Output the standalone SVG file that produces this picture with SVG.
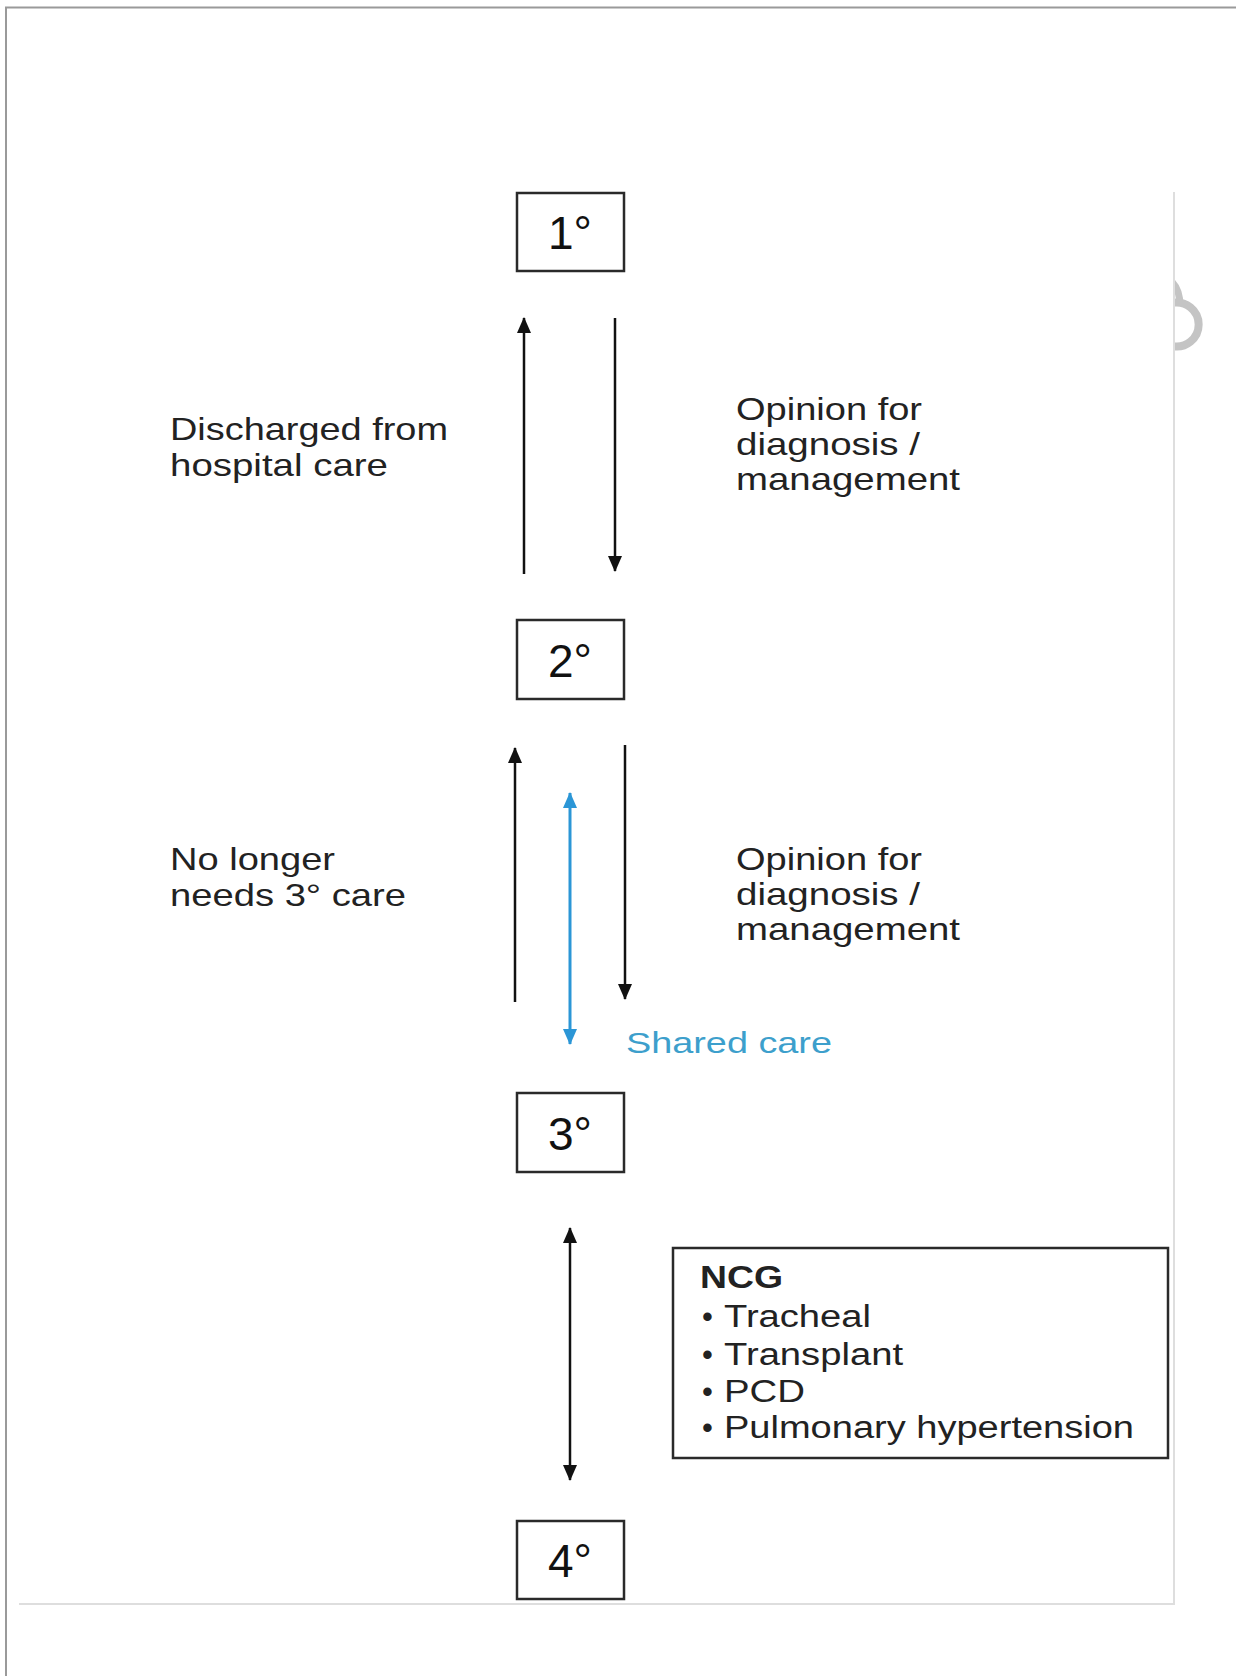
<svg xmlns="http://www.w3.org/2000/svg" width="1236" height="1676" viewBox="0 0 1236 1676">
  <style>
    .lbl { font-family: "Liberation Sans", Arial, sans-serif; font-size: 32px; fill: #222; }
    .ncg { font-family: "Liberation Sans", Arial, sans-serif; font-size: 31px; fill: #222; }
    .deg { font-family: "Liberation Sans", Arial, sans-serif; font-size: 46px; fill: #111; text-anchor: middle; }
    .box { fill: #fff; stroke: #2a2a2a; stroke-width: 2.5; }
    .arr { stroke: #111; stroke-width: 2.5; fill: none; }
    .blue { stroke: #2b96d6; stroke-width: 3; fill: none; }
  </style>
  <defs>
    <marker id="ah" viewBox="0 0 16 14" refX="15" refY="7" markerWidth="16" markerHeight="14" markerUnits="userSpaceOnUse" orient="auto-start-reverse">
      <path d="M0,0 L16,7 L0,14 z" fill="#111"/>
    </marker>
    <marker id="ahb" viewBox="0 0 16 14" refX="15" refY="7" markerWidth="16" markerHeight="14" markerUnits="userSpaceOnUse" orient="auto-start-reverse">
      <path d="M0,0 L16,7 L0,14 z" fill="#2b96d6"/>
    </marker>
    <clipPath id="clipR">
      <rect x="1175" y="250" width="61" height="120"/>
    </clipPath>
  </defs>
  <rect width="1236" height="1676" fill="#fff"/>
  <g id="frame">
    <path d="M6,1676 V7.5 H1236" fill="none" stroke="#9a9a9a" stroke-width="2"/>
    <path d="M1174,192 V1604 H19" fill="none" stroke="#dedede" stroke-width="2"/>
    <path d="M1172,303 A22,22 0 1 1 1172,346" fill="none" stroke="#c4c4c4" stroke-width="8" clip-path="url(#clipR)"/>
    <path d="M1172,282 Q1180,290 1180,306" fill="none" stroke="#c4c4c4" stroke-width="7" clip-path="url(#clipR)"/>
  </g>
  <g id="connectors">
    <line class="arr" x1="524" y1="574" x2="524" y2="318" marker-end="url(#ah)"/>
    <line class="arr" x1="615" y1="318" x2="615" y2="571" marker-end="url(#ah)"/>
    <line class="arr" x1="515" y1="1002" x2="515" y2="748" marker-end="url(#ah)"/>
    <line class="arr" x1="625" y1="745" x2="625" y2="999" marker-end="url(#ah)"/>
    <line class="blue" x1="570" y1="793" x2="570" y2="1044" marker-start="url(#ahb)" marker-end="url(#ahb)"/>
    <line class="arr" x1="570" y1="1228" x2="570" y2="1480" marker-start="url(#ah)" marker-end="url(#ah)"/>
  </g>
  <g id="node-1">
    <rect class="box" x="517" y="193" width="107" height="78"/>
    <text class="deg" x="570" y="249">1°</text>
  </g>
  <g id="node-2">
    <rect class="box" x="517" y="620" width="107" height="79"/>
    <text class="deg" x="570" y="677">2°</text>
  </g>
  <g id="node-3">
    <rect class="box" x="517" y="1093" width="107" height="79"/>
    <text class="deg" x="570" y="1150">3°</text>
  </g>
  <g id="node-4">
    <rect class="box" x="517" y="1521" width="107" height="78"/>
    <text class="deg" x="570" y="1577">4°</text>
  </g>
  <g id="label-discharged">
    <text class="lbl" x="170" y="440" textLength="278" lengthAdjust="spacingAndGlyphs">Discharged from</text>
    <text class="lbl" x="170" y="476" textLength="218" lengthAdjust="spacingAndGlyphs">hospital care</text>
  </g>
  <g id="label-opinion-1">
    <text class="lbl" x="736" y="420" textLength="186" lengthAdjust="spacingAndGlyphs">Opinion for</text>
    <text class="lbl" x="736" y="455" textLength="184" lengthAdjust="spacingAndGlyphs">diagnosis /</text>
    <text class="lbl" x="736" y="490" textLength="224" lengthAdjust="spacingAndGlyphs">management</text>
  </g>
  <g id="label-nolonger">
    <text class="lbl" x="170" y="870" textLength="165" lengthAdjust="spacingAndGlyphs">No longer</text>
    <text class="lbl" x="170" y="906" textLength="236" lengthAdjust="spacingAndGlyphs">needs 3° care</text>
  </g>
  <g id="label-opinion-2">
    <text class="lbl" x="736" y="870" textLength="186" lengthAdjust="spacingAndGlyphs">Opinion for</text>
    <text class="lbl" x="736" y="905" textLength="184" lengthAdjust="spacingAndGlyphs">diagnosis /</text>
    <text class="lbl" x="736" y="940" textLength="224" lengthAdjust="spacingAndGlyphs">management</text>
  </g>
  <g id="label-shared">
    <text class="lbl" x="626" y="1053" style="font-size:30px; fill:#3d9fcc" textLength="206" lengthAdjust="spacingAndGlyphs">Shared care</text>
  </g>
  <g id="node-ncg">
    <rect class="box" x="673" y="1248" width="495" height="210"/>
    <text class="ncg" x="700" y="1288" font-weight="bold" textLength="83" lengthAdjust="spacingAndGlyphs">NCG</text>
    <text class="ncg" x="702" y="1327">•</text>
    <text class="ncg" x="724" y="1327" textLength="147" lengthAdjust="spacingAndGlyphs">Tracheal</text>
    <text class="ncg" x="702" y="1365">•</text>
    <text class="ncg" x="724" y="1365" textLength="179" lengthAdjust="spacingAndGlyphs">Transplant</text>
    <text class="ncg" x="702" y="1402">•</text>
    <text class="ncg" x="724" y="1402" textLength="81" lengthAdjust="spacingAndGlyphs">PCD</text>
    <text class="ncg" x="702" y="1438">•</text>
    <text class="ncg" x="724" y="1438" textLength="410" lengthAdjust="spacingAndGlyphs">Pulmonary hypertension</text>
  </g>
</svg>
